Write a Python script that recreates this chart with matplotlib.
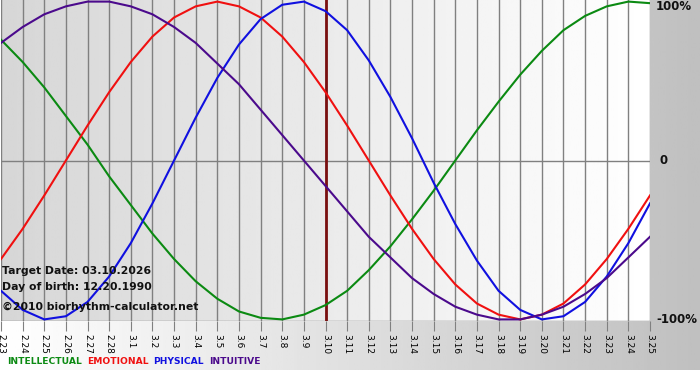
import numpy as np
import matplotlib
matplotlib.use("Agg")
import matplotlib.pyplot as plt

# days shown, 2.23 .. 3.25 (2026)
days = ["2.23", "2.24", "2.25", "2.26", "2.27", "2.28",
        "3.1", "3.2", "3.3", "3.4", "3.5", "3.6", "3.7", "3.8", "3.9", "3.10",
        "3.11", "3.12", "3.13", "3.14", "3.15", "3.16", "3.17", "3.18", "3.19",
        "3.20", "3.21", "3.22", "3.23", "3.24", "3.25"]
target = "3.10"

intellectual = [0.76, 0.62, 0.46, 0.28, 0.10, -0.10, -0.28, -0.46, -0.62, -0.76,
                -0.87, -0.95, -0.99, -1.00, -0.97, -0.91, -0.82, -0.69, -0.54, -0.37,
                -0.19, 0.00, 0.19, 0.37, 0.54, 0.69, 0.82, 0.91, 0.97, 1.00, 0.99]
emotional = [-0.62, -0.43, -0.22, 0.00, 0.22, 0.43, 0.62, 0.78, 0.90, 0.97,
             1.00, 0.97, 0.90, 0.78, 0.62, 0.43, 0.22, 0.00, -0.22, -0.43,
             -0.62, -0.78, -0.90, -0.97, -1.00, -0.97, -0.90, -0.78, -0.62, -0.43, -0.22]
physical = [-0.82, -0.94, -1.00, -0.98, -0.89, -0.73, -0.52, -0.27, 0.00, 0.27,
            0.52, 0.73, 0.89, 0.98, 1.00, 0.94, 0.82, 0.63, 0.40, 0.14,
            -0.14, -0.40, -0.63, -0.82, -0.94, -1.00, -0.98, -0.89, -0.73, -0.52, -0.27]
intuitive = [0.74, 0.84, 0.92, 0.97, 1.00, 1.00, 0.97, 0.92, 0.84, 0.74,
             0.61, 0.48, 0.32, 0.16, 0.00, -0.16, -0.32, -0.48, -0.61, -0.74,
             -0.84, -0.92, -0.97, -1.00, -1.00, -0.97, -0.92, -0.84, -0.74, -0.61, -0.48]

series = [("INTELLECTUAL", intellectual, "#0b8a12"),
          ("EMOTIONAL", emotional, "#f01010"),
          ("PHYSICAL", physical, "#1010e0"),
          ("INTUITIVE", intuitive, "#4b0a8c")]

W, H = 700, 380
fig = plt.figure(figsize=(W / 100, H / 100), dpi=100)

# figure background: white -> grey from left to right, white strip at bottom
bg = fig.add_axes([0, 0, 1, 1], zorder=-1)
grad = np.linspace(1.0, 0.75, 256).reshape(1, -1)
bg.imshow(grad, extent=[0, 1, 10 / H, 1], aspect="auto", cmap="gray",
          vmin=0, vmax=1, origin="lower")
bg.set_xlim(0, 1)
bg.set_ylim(0, 1)
bg.axis("off")

ax = fig.add_axes([1 / W, (H - 321) / H, 649 / W, 321 / H])
x = np.arange(len(days))
ylo, yhi = -1.01, 1.01

pgrad = np.linspace(0.84, 1.0, 256).reshape(1, -1)
ax.imshow(pgrad, extent=[0, len(days) - 1, ylo, yhi], aspect="auto",
          cmap="gray", vmin=0, vmax=1, zorder=0)

for xi in x:
    ax.axvline(xi, color="#808080", lw=1, zorder=1)
ax.axhline(0, color="#808080", lw=1, zorder=1)
ax.axhline(ylo, color="#808080", lw=1, zorder=1)

ax.axvline(days.index(target), color="#7a1010", lw=2, zorder=2)

for name, vals, col in series:
    ax.plot(x, vals, color=col, lw=1.5, zorder=3)

ax.set_xlim(0, len(days) - 1)
ax.set_ylim(ylo, yhi)
ax.set_xticks(x)
ax.set_xticklabels(days, rotation=270, fontsize=6.5, family="DejaVu Sans")
ax.tick_params(axis="x", length=7, color="#808080", pad=2)
ax.set_yticks([])
for s in ax.spines.values():
    s.set_visible(False)

# right-hand percentage labels
for val, lab in [(0.97, "100%"), (0.0, "0"), (-1.0, "-100%")]:
    ax.text(1.0 + 6 / 649 if lab != "0" else 1.0 + 10 / 649, val, lab,
            transform=ax.get_yaxis_transform(), fontsize=8.5, fontweight="bold",
            color="#111111", va="center", ha="left")

info = ["Target Date: 03.10.2026", "Day of birth: 12.20.1990"]
ax.text(1 / 649, 0.155, info[0], transform=ax.transAxes, fontsize=7.8,
        fontweight="bold", color="#111111", va="center")
ax.text(1 / 649, 0.105, info[1], transform=ax.transAxes, fontsize=7.8,
        fontweight="bold", color="#111111", va="center")
ax.text(1 / 649, 0.043, "\u00a92010 biorhythm-calculator.net", transform=ax.transAxes,
        fontsize=7.8, fontweight="bold", color="#111111", va="center")

# legend row
xpos = 7
renderer = fig.canvas.get_renderer()
for name, vals, col in series:
    t = fig.text(xpos / W, 1 - 361 / H, name, fontsize=6.6, fontweight="bold",
                 color=col, va="center", ha="left")
    bb = t.get_window_extent(renderer=renderer)
    xpos += bb.width + 5

fig.savefig("out.png", dpi=100)
